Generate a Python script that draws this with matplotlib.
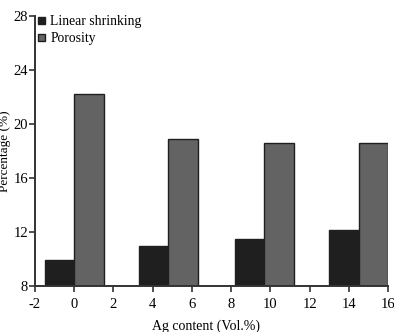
import matplotlib.pyplot as plt

plt.rcParams['font.family'] = ['Liberation Serif', 'DejaVu Serif']
plt.rcParams['axes.unicode_minus'] = False

ag_content = [0, 4.8, 9.7, 14.5]
linear_shrinking = [9.9, 10.95, 11.45, 12.15]
porosity = [22.25, 18.9, 18.62, 18.58]

width = 1.5

fig = plt.figure(figsize=(3.94, 3.32), dpi=100)
ax = fig.add_axes([0.0888, 0.1386, 0.896, 0.813])

ax.bar([x - width / 2 for x in ag_content], [v - 8 for v in linear_shrinking], width,
       bottom=8, color='#1f1f1f', edgecolor='#1f1f1f', linewidth=1.0, label='Linear shrinking')
ax.bar([x + width / 2 for x in ag_content], [v - 8 for v in porosity], width,
       bottom=8, color='#636363', edgecolor='#1f1f1f', linewidth=1.0, label='Porosity')

ax.set_xlim(-2, 16)
ax.set_ylim(8, 28)
ax.set_xticks(range(-2, 17, 2))
ax.set_yticks(range(8, 29, 4))

for side in ['top', 'right']:
    ax.spines[side].set_visible(False)
for side in ['left', 'bottom']:
    ax.spines[side].set_linewidth(1.4)
    ax.spines[side].set_color('#333333')

ax.tick_params(axis='both', direction='out', length=4, width=1.2, color='#333333',
               labelsize=10.5)
ax.tick_params(axis='x', pad=5)
ax.tick_params(axis='y', pad=1)

fig.text(206 / 394, 1 - 326 / 332, 'Ag content (Vol.%)', fontsize=10,
         ha='center', va='center')
ax.set_ylabel('Percentage (%)', fontsize=9.5, labelpad=1.5)

ax.legend(loc='upper left', bbox_to_anchor=(0.009, 1.003), frameon=False, fontsize=9.8,
          handlelength=0.5, handleheight=0.5, handletextpad=0.4, labelspacing=0.3,
          borderaxespad=0, borderpad=0)

fig.savefig('out.png', dpi=100)
